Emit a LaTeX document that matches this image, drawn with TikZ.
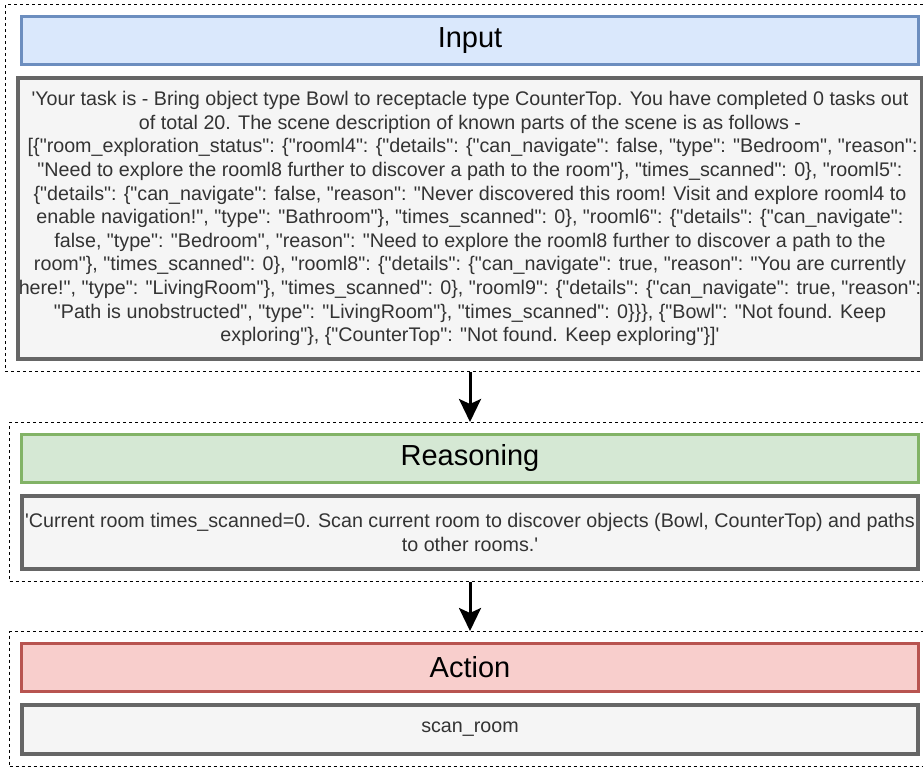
\documentclass[tikz,border=0pt]{standalone}
\usepackage{fontspec}
\setmainfont{Liberation Sans}[Ligatures=TeXOff]
\usepackage{tikz}
\usetikzlibrary{positioning, fit, arrows.meta}
\definecolor{inputfill}{HTML}{DAE8FC}
\definecolor{inputline}{HTML}{6C8EBF}
\definecolor{reasonfill}{HTML}{D5E8D4}
\definecolor{reasonline}{HTML}{82B366}
\definecolor{actionfill}{HTML}{F8CECC}
\definecolor{actionline}{HTML}{B85450}
\definecolor{boxfill}{HTML}{F5F5F5}
\definecolor{boxline}{HTML}{666666}
\definecolor{boxtext}{HTML}{333333}

\begin{document}
\begin{tikzpicture}[x=1pt, y=1pt,
  header/.style={draw, line width=3pt, minimum width=897pt, minimum height=47.5pt, inner sep=0pt, font=\fontsize{29}{34}\selectfont},
  content/.style={draw=boxline, fill=boxfill, text=boxtext, line width=4pt, minimum width=896pt, inner xsep=1pt, inner ysep=0pt, align=center, font=\fontsize{19.7}{23.6}\selectfont},
  group/.style={draw, dash pattern=on 3pt off 3pt, line width=0.8pt, inner xsep=10.3pt, inner ysep=10.6pt},
  flow/.style={line width=3pt, -{Stealth[length=23pt, width=22pt, inset=5pt]}}]
  \useasboundingbox (0,0) rectangle (923,-766);

  \node[header, fill=inputfill, draw=inputline] (inhead) at (470,-40.25) {Input};
  \node[content, minimum height=281pt, below=10.5pt of inhead] (inbody) {'Your task is - Bring object type Bowl to receptacle type CounterTop. You have completed 0 tasks out\\
of total 20. The scene description of known parts of the scene is as follows -\\{}
[\{"room\_exploration\_status": \{"rooml4": \{"details": \{"can\_navigate": false, "type": "Bedroom", "reason":\\
"Need to explore the rooml8 further to discover a path to the room"\}, "times\_scanned": 0\}, "rooml5":\\
\{"details": \{"can\_navigate": false, "reason": "Never discovered this room! Visit and explore rooml4 to\\
enable navigation!", "type": "Bathroom"\}, "times\_scanned": 0\}, "rooml6": \{"details": \{"can\_navigate":\\
false, "type": "Bedroom", "reason": "Need to explore the rooml8 further to discover a path to the\\
room"\}, "times\_scanned": 0\}, "rooml8": \{"details": \{"can\_navigate": true, "reason": "You are currently\\
here!", "type": "LivingRoom"\}, "times\_scanned": 0\}, "rooml9": \{"details": \{"can\_navigate": true, "reason":\\
"Path is unobstructed", "type": "LivingRoom"\}, "times\_scanned": 0\}\}\}, \{"Bowl": "Not found. Keep\\
exploring"\}, \{"CounterTop": "Not found. Keep exploring"\}]'};
  \node[group, fit=(inhead) (inbody)] (ingroup) {};

  \node[header, fill=reasonfill, draw=reasonline, below=72pt of inbody] (reasonhead) {Reasoning};
  \node[content, minimum height=73pt, below=10.5pt of reasonhead] (reasonbody) {'Current room times\_scanned=0. Scan current room to discover objects (Bowl, CounterTop) and paths\\
to other rooms.'};
  \node[group, fit=(reasonhead) (reasonbody)] (reasongroup) {};

  \node[header, fill=actionfill, draw=actionline, below=71pt of reasonbody] (actionhead) {Action};
  \node[content, minimum height=48.5pt, below=10.5pt of actionhead] (actionbody) {scan\_room};
  \node[group, fit=(actionhead) (actionbody)] (actiongroup) {};

  \draw[flow] (ingroup) -- (reasongroup);
  \draw[flow] (reasongroup) -- (actiongroup);
\end{tikzpicture}
\end{document}
